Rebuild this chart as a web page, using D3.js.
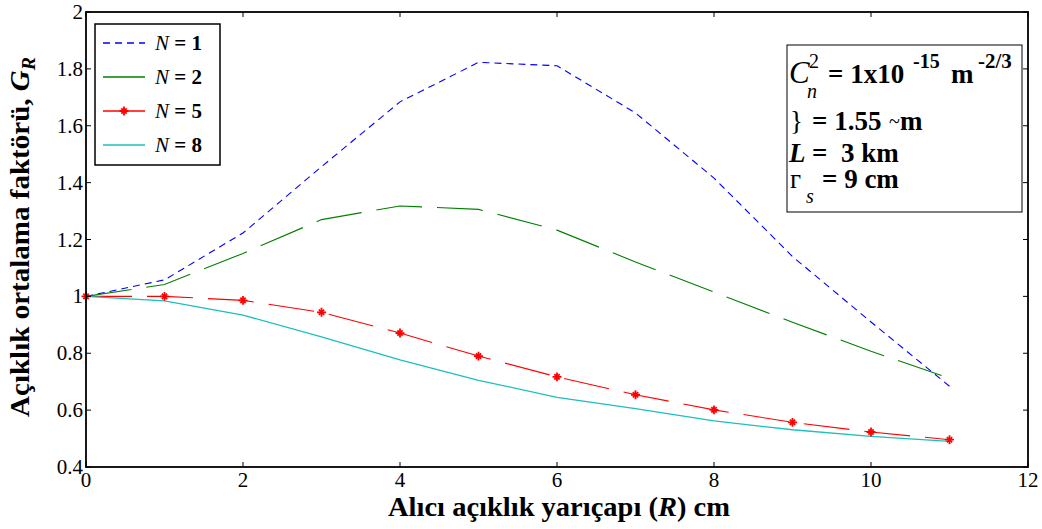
<!DOCTYPE html>
<html>
<head>
<meta charset="utf-8">
<script src="https://cdn.jsdelivr.net/npm/d3@7"></script>
<style>
  body { margin: 0; background: #fff; }
</style>
</head>
<body>
<div id="chart"></div>
<script>
// data
const radius = [0, 1, 2, 3, 4, 5, 6, 7, 8, 9, 10, 11];
const gN1 = [1.00, 1.058, 1.223, 1.456, 1.684, 1.823, 1.811, 1.645, 1.416, 1.14, 0.91, 0.684];
const gN2 = [1.00, 1.042, 1.151, 1.27, 1.318, 1.306, 1.233, 1.121, 1.015, 0.909, 0.807, 0.712];
const gN5 = [1.00, 1.00, 0.986, 0.944, 0.871, 0.79, 0.717, 0.654, 0.601, 0.557, 0.523, 0.496];
const gN8 = [1.00, 0.984, 0.934, 0.858, 0.777, 0.705, 0.645, 0.605, 0.562, 0.531, 0.508, 0.49];
const xTicks = [0, 2, 4, 6, 8, 10, 12];
const yTicks = [0.4, 0.6, 0.8, 1, 1.2, 1.4, 1.6, 1.8, 2];
const seriesNames = ['1', '2', '5', '8'];

const width = 1042, height = 529;
const margin = {left: 86, right: 14, top: 12, bottom: 62};
const serif = "'Liberation Serif', 'Times New Roman', Times, serif";

const svg = d3.select('#chart').append('svg')
  .attr('width', width)
  .attr('height', height)
  .style('font-family', serif);

const x = d3.scaleLinear().domain([0, 12]).range([margin.left, width - margin.right]);
const y = d3.scaleLinear().domain([0.4, 2]).range([height - margin.bottom, margin.top]);

const series = [
  {name: seriesNames[0], values: gN1, color: '#0000ff', dash: '7,5', width: 1.1},
  {name: seriesNames[1], values: gN2, color: '#008000', dash: '46,15', width: 1.1},
  {name: seriesNames[2], values: gN5, color: '#ff0000', dash: '46,15', width: 1.1, marker: true},
  {name: seriesNames[3], values: gN8, color: '#1cbfbf', dash: null, width: 1.3}
];

const line = d3.line()
  .x((d, i) => x(radius[i]))
  .y(d => y(d));

// lines
series.forEach(s => {
  svg.append('path')
    .datum(s.values)
    .attr('fill', 'none')
    .attr('stroke', s.color)
    .attr('stroke-width', s.width)
    .attr('stroke-dasharray', s.dash)
    .attr('d', line);
});

// star markers like matlab '*'
function star(g, cx, cy, color) {
  const m = g.append('g').attr('transform', `translate(${cx},${cy})`);
  m.append('path').attr('d', d3.symbol(d3.symbolPlus, 28)())
    .attr('fill', 'none').attr('stroke', color).attr('stroke-width', 1.8);
  m.append('path').attr('d', d3.symbol(d3.symbolTimes, 20)())
    .attr('fill', 'none').attr('stroke', color).attr('stroke-width', 1.8);
}
series.filter(s => s.marker).forEach(s => {
  s.values.forEach((v, i) => star(svg, x(radius[i]), y(v), s.color));
});

// axes box with inward ticks on all sides
const x0 = x(0), x1 = x(12), y0 = y(0.4), y1 = y(2);
const tickLen = 5;
const axisG = svg.append('g').attr('stroke', '#000').attr('stroke-width', 1);
xTicks.forEach(t => {
  axisG.append('line').attr('x1', x(t)).attr('x2', x(t)).attr('y1', y0).attr('y2', y0 - tickLen);
  axisG.append('line').attr('x1', x(t)).attr('x2', x(t)).attr('y1', y1).attr('y2', y1 + tickLen);
});
yTicks.forEach(t => {
  axisG.append('line').attr('x1', x0).attr('x2', x0 + tickLen).attr('y1', y(t)).attr('y2', y(t));
  axisG.append('line').attr('x1', x1).attr('x2', x1 - tickLen).attr('y1', y(t)).attr('y2', y(t));
});
svg.append('rect')
  .attr('x', x0).attr('y', y1)
  .attr('width', x1 - x0).attr('height', y0 - y1)
  .attr('fill', 'none').attr('stroke', '#000').attr('stroke-width', 1.8);

// tick labels
svg.append('g').selectAll('text')
  .data(xTicks).enter().append('text')
  .attr('x', d => x(d)).attr('y', y0 + 20)
  .attr('text-anchor', 'middle')
  .style('font-size', '21px')
  .text(d => d);
svg.append('g').selectAll('text')
  .data(yTicks).enter().append('text')
  .attr('x', x0 - 3).attr('y', d => y(d) + 7)
  .attr('text-anchor', 'end')
  .style('font-size', '21px')
  .text(d => d);

// small correction so label length matches the figure
function fitWidth(node, target) {
  return target / node.getBBox().width;
}

// x label
const xl = svg.append('text')
  .attr('text-anchor', 'middle')
  .style('font-size', '28px').style('font-weight', 'bold');
xl.append('tspan').text('Alıcı açıklık yarıçapı (');
xl.append('tspan').style('font-style', 'italic').text('R');
xl.append('tspan').text(') cm');
xl.attr('transform', `translate(559,516) scale(${fitWidth(xl.node(), 342)},1)`);

// y label
const yl = svg.append('text')
  .attr('text-anchor', 'middle')
  .style('font-size', '28px').style('font-weight', 'bold');
yl.append('tspan').text('Açıklık ortalama faktörü, ');
yl.append('tspan').style('font-style', 'italic').text('G');
yl.append('tspan').style('font-style', 'italic').style('font-size', '19px').attr('dy', 6).text('R');
yl.attr('transform', `translate(29,237) rotate(-90) scale(${fitWidth(yl.node(), 360)},1)`);

// legend
const lg = svg.append('g');
lg.append('rect')
  .attr('x', 95).attr('y', 24).attr('width', 125).attr('height', 141)
  .attr('fill', '#fff').attr('stroke', '#000').attr('stroke-width', 1.5);
series.forEach((s, i) => {
  const ly = 43 + i * 34;
  lg.append('line')
    .attr('x1', 103).attr('x2', 145).attr('y1', ly).attr('y2', ly)
    .attr('stroke', s.color).attr('stroke-width', s.width + 0.3)
    .attr('stroke-dasharray', i === 0 ? '7,5' : null);
  if (s.marker) star(lg, 124, ly, s.color);
  const t = lg.append('text').attr('x', 155).attr('y', ly + 7).style('font-size', '21px');
  t.append('tspan').style('font-style', 'italic').text('N');
  t.append('tspan').style('font-weight', 'bold').text(' = ' + s.name);
});

// parameter box
const pb = svg.append('g');
pb.append('rect')
  .attr('x', 787).attr('y', 45).attr('width', 235).attr('height', 167)
  .attr('fill', '#fff').attr('stroke', '#000').attr('stroke-width', 1);

function piece(txt, px, py, size, opts = {}) {
  return pb.append('text')
    .attr('x', px).attr('y', py)
    .style('font-size', size + 'px')
    .style('font-weight', opts.bold ? 'bold' : 'normal')
    .style('font-style', opts.italic ? 'italic' : 'normal')
    .style('white-space', 'pre')
    .text(txt);
}
// line 1: Cn^2 = 1x10^-15 m^-2/3
piece('C', 789, 83, 31, {italic: true});
piece('2', 809, 68, 20);
piece('n', 807, 98, 20, {italic: true});
piece('= 1x10', 828, 83, 27, {bold: true});
piece('-15', 913, 68, 20, {bold: true});
piece('m', 951, 83, 27, {bold: true});
piece('-2/3', 978, 68, 21, {bold: true});
// line 2
piece('}', 790, 130, 27);
piece('= 1.55', 812, 130, 27, {bold: true});
piece('~', 889, 128, 20);
piece('m', 900, 130, 27, {bold: true});
// line 3
piece('L', 789, 162, 27, {bold: true, italic: true});
piece('=  3 km', 812, 162, 27, {bold: true});
// line 4
piece('г', 790, 188, 27);
piece('s', 806, 203, 20, {italic: true});
piece('= 9 cm', 822, 188, 27, {bold: true});
</script>
</body>
</html>
